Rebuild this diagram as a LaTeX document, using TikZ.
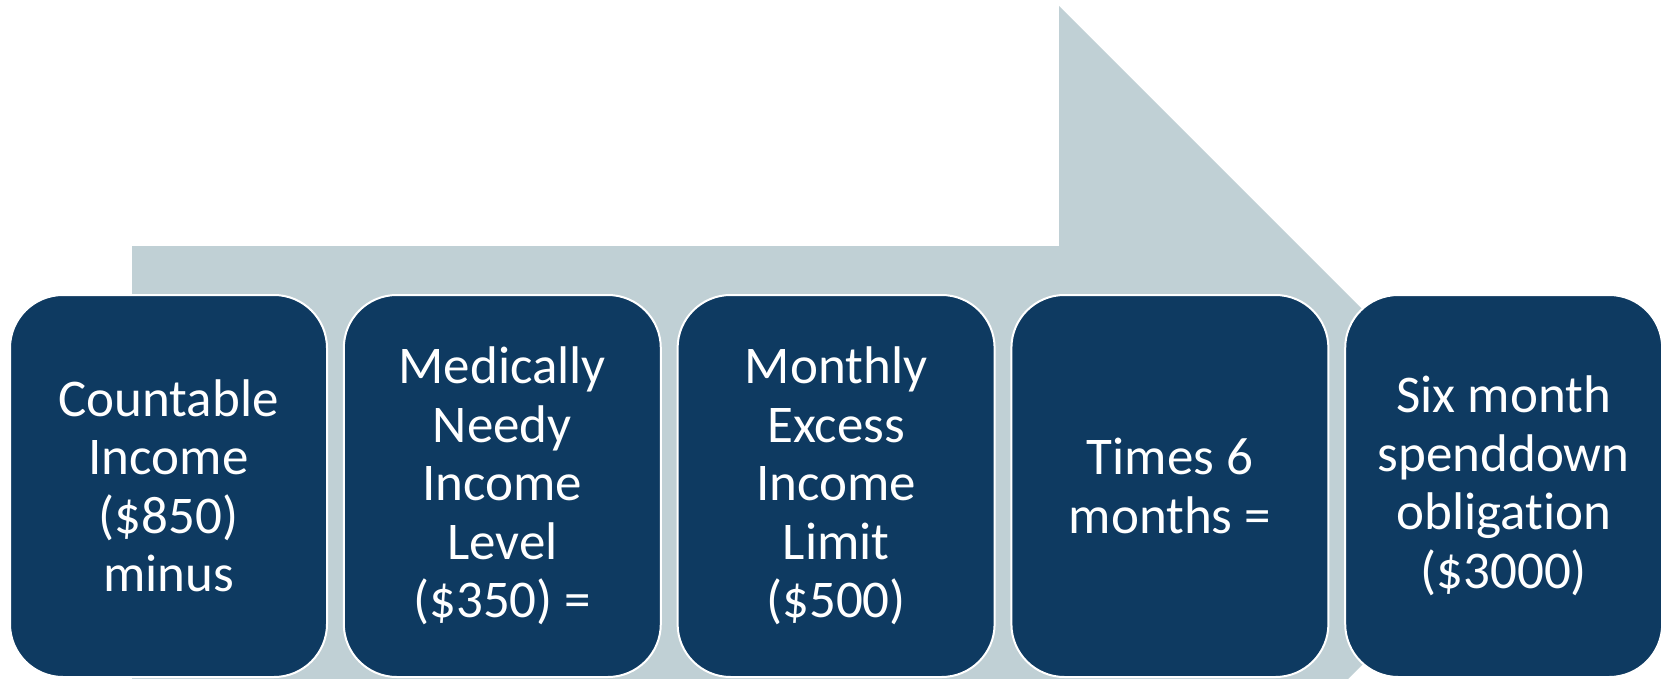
\documentclass[tikz,border=0pt]{standalone}
\usepackage{fontspec}
\setmainfont[Ligatures=NoCommon]{Carlito}
\definecolor{navy}{HTML}{0E3A61}
\definecolor{arrowgrey}{HTML}{C0D0D5}
\tikzset{
  stepbox/.style={rectangle, rounded corners=53pt, fill=navy, draw=white, line width=2pt,
    minimum width=317pt, minimum height=382pt, inner sep=0pt, text=white, align=center,
    font=\fontsize{53}{58.5}\selectfont},
  bigarrow/.style={fill=arrowgrey}
}
\begin{document}
\begin{tikzpicture}[x=1pt,y=-1pt]
\useasboundingbox (0,0) rectangle (1667,679);
\begin{scope}
\clip (0,0) rectangle (1667,679);
\fill[bigarrow] (132,246) -- (1059,246) -- (1059,6) -- (1540,487) -- (1059,968) -- (1059,728) -- (132,728) -- cycle;
\end{scope}
\node[stepbox] (b1) at (168.5,486) {Countable\\Income\\(\$850)\\minus};
\node[stepbox] (b2) at (502.3,486) {Medically\\Needy\\Income\\Level\\(\$350) =};
\node[stepbox] (b3) at (836.1,486) {Monthly\\Excess\\Income\\Limit\\(\$500)};
\node[stepbox] (b4) at (1169.9,486) {Times 6\\months =};
\node[stepbox] (b5) at (1503.7,486) {Six month\\spenddown\\obligation\\(\$3000)};
\end{tikzpicture}
\end{document}
